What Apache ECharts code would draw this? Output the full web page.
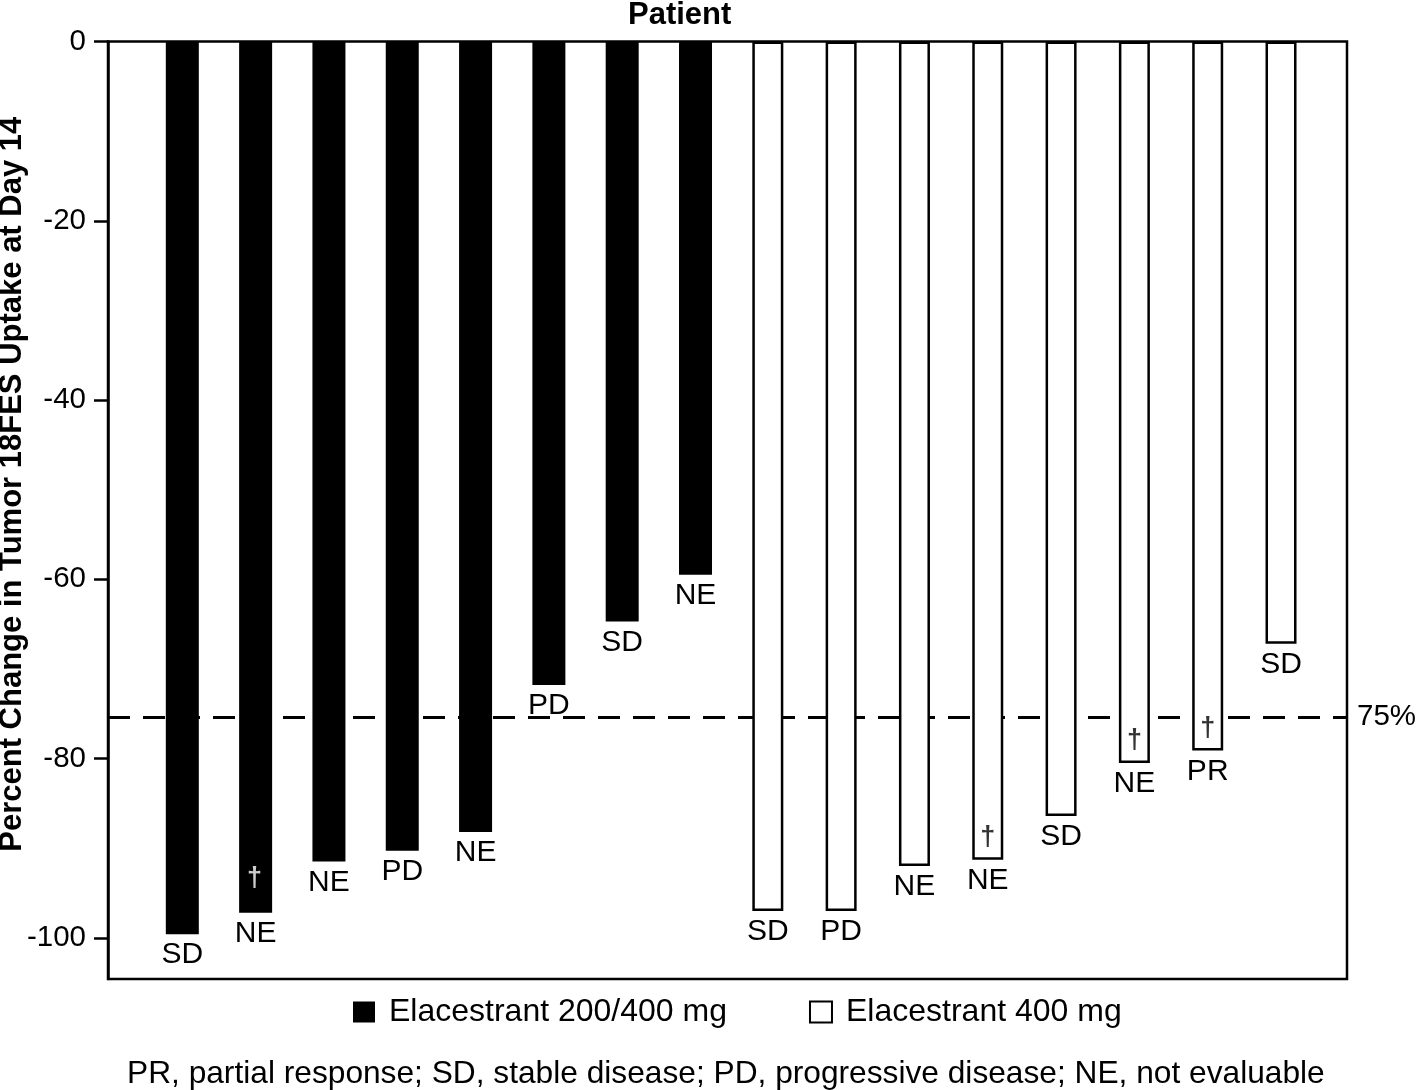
<!DOCTYPE html>
<html>
<head>
<meta charset="utf-8">
<script src="https://cdn.jsdelivr.net/npm/echarts@6/dist/echarts.min.js"></script>
<style>
html,body{margin:0;padding:0;background:#fff;}
#chart{width:1418px;height:1090px;}
</style>
</head>
<body>
<div id="chart"></div>
<script>
// ---- data ----
const patients200 = [1, 2, 3, 4, 5, 6, 7, 8];
const values200 = [-99.6, -97.2, -91.5, -90.3, -88.2, -71.8, -64.7, -59.5];
const response200 = ['SD', 'NE', 'NE', 'PD', 'NE', 'PD', 'SD', 'NE'];
const dagger200 = [false, true, false, false, false, false, false, false];

const patients400 = [9, 10, 11, 12, 13, 14, 15, 16];
const values400 = [-97.0, -97.0, -92.0, -91.3, -86.4, -80.5, -79.1, -67.2];
const response400 = ['SD', 'PD', 'NE', 'NE', 'SD', 'NE', 'PR', 'SD'];
const dagger400 = [false, false, false, true, false, true, true, false];

const yTicks = [0, -20, -40, -60, -80, -100];
const threshold = -75.4;
const thresholdLabel = '75%';

const seriesNames = ['Elacestrant 200/400 mg', 'Elacestrant 400 mg'];
const footnote = 'PR, partial response; SD, stable disease; PD, progressive disease; NE, not evaluable';

// ---- build ----
const FONT = '"Liberation Sans", Arial, Helvetica, sans-serif';
const d200 = patients200.map((p, i) => ({ value: [p, values200[i]], resp: response200[i] }));
const d400 = patients400.map((p, i) => ({ value: [p, values400[i]], resp: response400[i] }));
const dag200 = patients200.map((p, i) => dagger200[i] ? [p, values200[i]] : null).filter(Boolean);
const dag400 = patients400.map((p, i) => dagger400[i] ? [p, values400[i]] : null).filter(Boolean);

const barLabel = {
  show: true, position: 'outside', distance: 6,
  formatter: (p) => p.data.resp,
  color: '#000', fontFamily: FONT, fontSize: 30
};

const chart = echarts.init(document.getElementById('chart'), null, { renderer: 'canvas' });
chart.setOption({
  animation: false,
  backgroundColor: '#fff',
  grid: {
    left: 108, right: 71, top: 41.5, bottom: 111,
    containLabel: false, outerBoundsMode: 'none',
    show: true, borderColor: '#000', borderWidth: 2.5, backgroundColor: 'transparent'
  },
  xAxis: {
    type: 'value', min: 0, max: 16.9,
    axisLine: { show: false }, axisTick: { show: false },
    axisLabel: { show: false }, splitLine: { show: false }
  },
  yAxis: {
    type: 'value', min: -104.6, max: 0,
    name: 'Percent Change in Tumor 18FES Uptake at Day 14',
    nameLocation: 'middle', nameGap: 80, nameRotate: 90, nameMoveOverlap: false,
    nameTextStyle: { fontFamily: FONT, fontSize: 31, fontWeight: 'bold', color: '#000', padding: [0, 0, 0, 52] },
    axisLine: { show: true, lineStyle: { color: '#000', width: 2.5 } },
    axisTick: { show: true, length: 14, lineStyle: { color: '#000', width: 2.5 }, customValues: yTicks },
    axisLabel: { color: '#000', fontFamily: FONT, fontSize: 29.5, margin: 22, customValues: yTicks },
    splitLine: { show: false }
  },
  legend: {
    left: 348, top: 991,
    itemWidth: 22, itemHeight: 21, itemGap: 82,
    icon: 'rect',
    textStyle: { fontFamily: FONT, fontSize: 32, color: '#000', padding: [0, 0, 0, 9] },
    data: seriesNames
  },
  graphic: [
    { type: 'text', left: 628, top: 0, style: { text: 'Patient', fontFamily: FONT, fontSize: 31, fontWeight: 'bold', fill: '#000' } },
    { type: 'text', left: 127, top: 1058, style: { text: footnote, fontFamily: FONT, fontSize: 31.7, fill: '#000' } }
  ],
  series: [
    {
      name: 'threshold', type: 'line', data: [], z: 1, silent: true,
      markLine: {
        z: 1, symbol: 'none', silent: true, animation: false,
        lineStyle: { color: '#000', type: [22, 13], width: 3 },
        label: { show: true, position: 'end', formatter: thresholdLabel, fontFamily: FONT, fontSize: 29.5, color: '#000', distance: 10 },
        data: [{ yAxis: threshold }]
      }
    },
    {
      name: seriesNames[0], type: 'bar', data: d200, barWidth: 33, barGap: '-100%', z: 3,
      itemStyle: { color: '#000' },
      label: barLabel
    },
    {
      name: seriesNames[1], type: 'bar', data: d400, barWidth: 31, barGap: '-100%', z: 3,
      itemStyle: { color: '#fff', borderColor: '#000', borderWidth: 2.5 },
      label: barLabel
    },
    {
      name: 'dagger200', type: 'scatter', data: dag200, symbolSize: 1, z: 5, silent: true,
      itemStyle: { color: 'rgba(0,0,0,0)' },
      label: { show: true, position: 'inside', offset: [0, -34], formatter: '\u2020', color: '#fff', fontFamily: FONT, fontSize: 27, fontWeight: 'bold' }
    },
    {
      name: 'dagger400', type: 'scatter', data: dag400, symbolSize: 1, z: 5, silent: true,
      itemStyle: { color: 'rgba(0,0,0,0)' },
      label: { show: true, position: 'inside', offset: [0, -22], formatter: '\u2020', color: '#000', fontFamily: FONT, fontSize: 27, fontWeight: 'bold' }
    }
  ]
});
</script>
</body>
</html>
